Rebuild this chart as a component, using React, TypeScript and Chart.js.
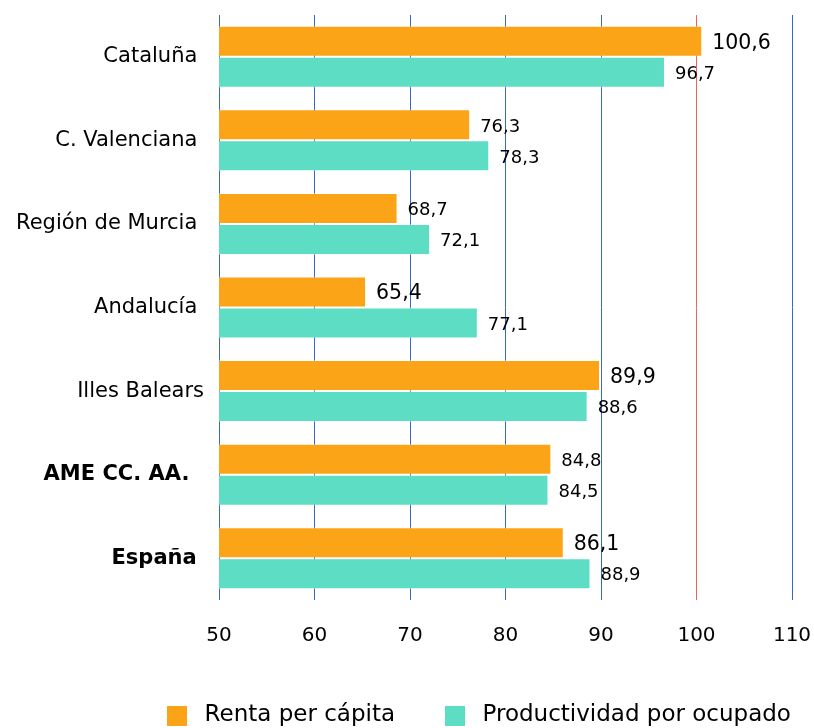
import React, { useEffect, useRef } from "react";
import { Chart, registerables } from "chart.js";

Chart.register(...registerables);

const categories = [
  "Cataluña ",
  "C. Valenciana ",
  "Región de Murcia ",
  "Andalucía ",
  "Illes Balears",
  "AME CC. AA.  ",
  "España ",
];
const rentaPerCapita = [100.6, 76.3, 68.7, 65.4, 89.9, 84.8, 86.1];
const productividad = [96.7, 78.3, 72.1, 77.1, 88.6, 84.5, 88.9];
const seriesNames = ["Renta per cápita", "Productividad por ocupado"];
const xTicks = [50, 60, 70, 80, 90, 100, 110];

// style: font size of each value label (px)
const labelSizes = [
  [20.5, 18, 18, 20.5, 20.5, 18, 20.5],
  [18, 18, 18, 18, 18, 18, 18],
];

const FONT = "'DejaVu Sans', Verdana, sans-serif";
const ORANGE = "rgb(252,164,23)";
const TEAL = "rgb(93,222,196)";
const COLORS = [ORANGE, TEAL];
const GRID_BLUE = "#3369c9";
const GRID_RED = "#ef6262";

const fmt = (v: number) => v.toFixed(1).replace(".", ",");

function makeSwatch(color: string) {
  const c = document.createElement("canvas");
  c.width = 20;
  c.height = 20;
  const g = c.getContext("2d")!;
  g.fillStyle = color;
  g.fillRect(0, 0, 20, 20);
  return c;
}

const valueLabels = {
  id: "valueLabels",
  afterDatasetsDraw(chart: any) {
    const ctx = chart.ctx;
    chart.data.datasets.forEach((ds: any, di: number) => {
      const meta = chart.getDatasetMeta(di);
      meta.data.forEach((bar: any, i: number) => {
        ctx.save();
        ctx.font = `${labelSizes[di][i]}px ${FONT}`;
        ctx.fillStyle = "#000";
        ctx.textAlign = "left";
        ctx.textBaseline = "middle";
        ctx.fillText(fmt(ds.data[i]), bar.x + 10, bar.y + 2);
        ctx.restore();
      });
    });
  },
};

export default function App() {
  const ref = useRef<HTMLCanvasElement>(null);
  useEffect(() => {
    if (!ref.current) return;
    Chart.defaults.font.family = FONT;
    const swatches = COLORS.map(makeSwatch);
    const chart = new Chart(ref.current, {
      type: "bar",
      data: {
        labels: categories,
        datasets: [
          {
            label: seriesNames[0],
            data: rentaPerCapita,
            backgroundColor: ORANGE,
            borderColor: "rgba(255,255,255,0.35)",
            borderWidth: 1,
            barPercentage: 1,
            categoryPercentage: 0.742,
          },
          {
            label: seriesNames[1],
            data: productividad,
            backgroundColor: TEAL,
            borderColor: "rgba(255,255,255,0.35)",
            borderWidth: 1,
            barPercentage: 1,
            categoryPercentage: 0.742,
          },
        ],
      },
      options: {
        indexAxis: "y",
        responsive: false,
        animation: false,
        layout: { padding: { left: 0, right: 0, top: 15, bottom: 0 } },
        plugins: {
          legend: {
            position: "bottom",
            labels: {
              usePointStyle: true,
              pointStyleWidth: 32,
              boxHeight: 20,
              padding: 44,
              color: "#000",
              font: { family: FONT, size: 23 },
              generateLabels: (ch: any) =>
                Chart.defaults.plugins.legend.labels
                  .generateLabels(ch)
                  .map((it: any, i: number) => ({ ...it, pointStyle: swatches[i] })),
            },
          },
          tooltip: { enabled: false },
        },
        scales: {
          x: {
            type: "linear",
            min: xTicks[0],
            max: xTicks[xTicks.length - 1],
            afterBuildTicks: (scale: any) => {
              scale.ticks = xTicks.map((v) => ({ value: v }));
            },
            ticks: {
              padding: 24,
              color: "#000",
              font: { family: FONT, size: 20 },
            },
            grid: {
              drawTicks: false,
              lineWidth: 1,
              color: (c: any) => (c.tick && c.tick.value === 100 ? GRID_RED : GRID_BLUE),
            },
            border: { display: false },
            afterFit: (scale: any) => {
              scale.height = 60;
              scale.paddingRight = 160;
            },
          },
          y: {
            type: "category",
            ticks: {
              padding: 15,
              color: "#000",
              font: (c: any) => ({
                family: FONT,
                size: 21,
                weight: c.index >= 5 ? "bold" : "normal",
              }),
            },
            grid: { display: false, drawTicks: false },
            border: { display: false },
            afterFit: (scale: any) => {
              scale.width = 219;
              scale.paddingTop = 0;
              scale.paddingBottom = 0;
            },
          },
        },
      },
      plugins: [valueLabels],
    } as any);
    return () => chart.destroy();
  }, []);
  return (
    <div
      style={{
        position: "absolute",
        left: 0,
        top: 0,
        width: 814,
        height: 728,
        overflow: "hidden",
        background: "#fff",
      }}
    >
      <canvas ref={ref} width={952} height={737} style={{ display: "block" }} />
    </div>
  );
}
